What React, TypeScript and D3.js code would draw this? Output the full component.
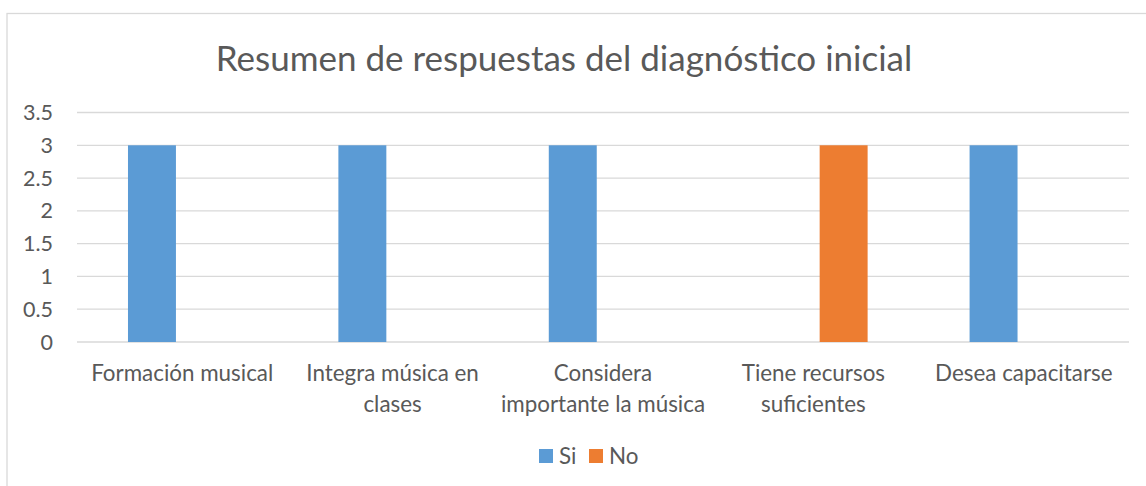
import React, { useEffect, useRef } from "react";
import * as d3 from "d3";

const categories = [
  "Formación musical",
  "Integra música en clases",
  "Considera importante la música",
  "Tiene recursos suficientes",
  "Desea capacitarse",
];
// labels as Excel wrapped them
const categoryLines = [
  ["Formación musical"],
  ["Integra música en", "clases"],
  ["Considera", "importante la música"],
  ["Tiene recursos", "suficientes"],
  ["Desea capacitarse"],
];
const seriesNames = ["Si", "No"];
const siValues = [3, 3, 3, 0, 3];
const noValues = [0, 0, 0, 3, 0];
const yTicks = [0, 0.5, 1, 1.5, 2, 2.5, 3, 3.5];

const colors: { [k: string]: string } = { Si: "#5b9bd5", No: "#ed7d31" };
const W = 1146,
  H = 486;
const margin = { top: 112.5, right: 17, bottom: 144, left: 77 };
const font = "Lato, 'Open Sans', sans-serif";
const textColor = "#595959";

function App() {
  const ref = useRef<SVGSVGElement>(null);

  useEffect(() => {
    const svg = d3.select(ref.current);
    svg.selectAll("*").remove();

    // chart area border (runs off right and bottom like the source)
    svg.append("rect")
      .attr("x", 7)
      .attr("y", 13.5)
      .attr("width", W + 20)
      .attr("height", H + 20)
      .attr("fill", "#fff")
      .attr("stroke", "#d9d9d9")
      .attr("stroke-width", 1.3);

    var x0 = d3.scaleBand().domain(categories).range([margin.left, W - margin.right]);
    var x1 = d3.scaleBand()
      .domain(seriesNames)
      .range([0, x0.bandwidth()])
      .paddingInner(0.207)
      .paddingOuter(0.843);
    var y = d3.scaleLinear().domain([0, 3.5]).range([H - margin.bottom, margin.top]);

    // gridlines
    svg.append("g")
      .selectAll("line")
      .data(yTicks)
      .enter()
      .append("line")
      .attr("x1", margin.left)
      .attr("x2", W - margin.right)
      .attr("y1", (d) => y(d))
      .attr("y2", (d) => y(d))
      .attr("stroke", "#d9d9d9")
      .attr("stroke-width", 1.3);

    // y labels
    svg.append("g")
      .selectAll("text")
      .data(yTicks)
      .enter()
      .append("text")
      .attr("x", 53)
      .attr("y", (d) => y(d))
      .attr("dy", "0.35em")
      .attr("text-anchor", "end")
      .attr("font-family", font)
      .attr("font-size", 21.5)
      .attr("fill", textColor)
      .text((d) => String(d));

    // bars
    const rows = categories.map((c, i) => ({ cat: c, Si: siValues[i], No: noValues[i] }));
    const groups = svg.append("g")
      .selectAll("g")
      .data(rows)
      .enter()
      .append("g")
      .attr("transform", (d) => `translate(${x0(d.cat)},0)`);
    groups.selectAll("rect")
      .data((d: any) => seriesNames.map((s) => ({ s, v: d[s] as number })))
      .enter()
      .filter((d) => d.v > 0)
      .append("rect")
      .attr("x", (d) => x1(d.s)!)
      .attr("width", x1.bandwidth())
      .attr("y", (d) => y(d.v))
      .attr("height", (d) => y(0) - y(d.v))
      .attr("fill", (d) => colors[d.s]);

    // category labels
    categories.forEach((c, i) => {
      const t = svg.append("text")
        .attr("x", x0(c)! + x0.bandwidth() / 2)
        .attr("y", 381)
        .attr("text-anchor", "middle")
        .attr("font-family", font)
        .attr("font-size", 22.4)
        .attr("fill", textColor);
      categoryLines[i].forEach((line, j) => {
        t.append("tspan")
          .attr("x", x0(c)! + x0.bandwidth() / 2)
          .attr("dy", j === 0 ? 0 : 31)
          .text(line);
      });
    });

    // title
    svg.append("text")
      .attr("x", 564)
      .attr("y", 71)
      .attr("text-anchor", "middle")
      .attr("font-family", font)
      .attr("font-size", 35)
      .attr("fill", textColor)
      .text("Resumen de respuestas del diagnóstico inicial");

    // legend
    const legendX = [539, 589];
    seriesNames.forEach((s, i) => {
      svg.append("rect")
        .attr("x", legendX[i])
        .attr("y", 449)
        .attr("width", 14)
        .attr("height", 14)
        .attr("fill", colors[s]);
      svg.append("text")
        .attr("x", legendX[i] + 20)
        .attr("y", 463.5)
        .attr("font-family", font)
        .attr("font-size", 22.4)
        .attr("fill", textColor)
        .text(s);
    });
  }, []);

  return (
    <svg
      ref={ref}
      width={W}
      height={H}
      style={{ position: "absolute", left: 0, top: 0, display: "block", background: "#fff" }}
    ></svg>
  );
}

export default App;
